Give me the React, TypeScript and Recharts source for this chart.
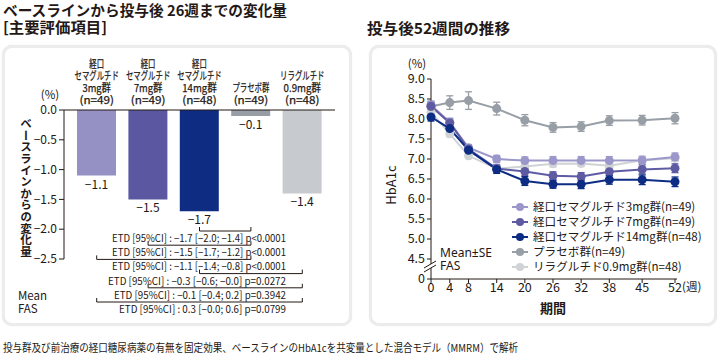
import React from 'react';
import {
  BarChart, Bar, XAxis, YAxis, Cell, LabelList, ReferenceLine,
  LineChart, Line, ErrorBar, Legend,
} from 'recharts';

const INK = '#231815';
const FONT = '"Noto Sans CJK JP", "Noto Sans", sans-serif';
const LATIN = '"Noto Sans", "Open Sans", sans-serif';

// ---------- left panel data ----------
const groupKeys = ['sema3', 'sema7', 'sema14', 'placebo', 'lira'];
const groupHeads = [
  ['経口', 'セマグルチド', '3mg群', '(n=49)'],
  ['経口', 'セマグルチド', '7mg群', '(n=49)'],
  ['経口', 'セマグルチド', '14mg群', '(n=48)'],
  ['プラセボ群', '(n=49)'],
  ['リラグルチド', '0.9mg群', '(n=48)'],
];
const changeFromBaseline = [-1.1, -1.5, -1.7, -0.1, -1.4];
const barColors = ['#9591c4', '#5b58a1', '#0e2c82', '#989ea6', '#c7cace'];
const changeTicks = [0, -0.5, -1, -1.5, -2, -2.5];

const compA = ['sema14', 'sema7', 'sema3', 'sema14', 'sema7', 'sema3'];
const compB = ['placebo', 'placebo', 'placebo', 'lira', 'lira', 'lira'];
const compText = [
  'ETD [95%CI] : −1.7 [−2.0; −1.4] p<0.0001',
  'ETD [95%CI] : −1.5 [−1.7; −1.2] p<0.0001',
  'ETD [95%CI] : −1.1 [−1.4; −0.8] p<0.0001',
  'ETD [95%CI] : −0.3 [−0.6; −0.0] p=0.0272',
  'ETD [95%CI] : −0.1 [−0.4; 0.2] p=0.3942',
  'ETD [95%CI] : 0.3 [−0.0; 0.6] p=0.0799',
];
const compTextW = [174, 174, 174, 178, 172, 167];

// ---------- right panel data ----------
const weeks = [0, 4, 8, 14, 20, 26, 32, 38, 45, 52];
const weekTicks = [0, 4, 8, 14, 20, 26, 32, 38, 45, 52];
const hba1cTicks = [4, 4.5, 5, 5.5, 6, 6.5, 7, 7.5, 8, 8.5, 9];
const sema3 = [8.35, 7.92, 7.28, 7.0, 6.96, 6.96, 6.96, 6.96, 6.97, 7.05];
const sema7 = [8.32, 7.9, 7.25, 6.76, 6.69, 6.58, 6.56, 6.68, 6.74, 6.77];
const sema14 = [8.05, 7.76, 7.22, 6.74, 6.45, 6.37, 6.37, 6.48, 6.48, 6.43];
const placebo = [8.31, 8.41, 8.46, 8.26, 7.97, 7.79, 7.81, 7.96, 7.97, 8.02];
const lira = [8.17, 7.63, 7.08, 6.76, 6.81, 6.88, 6.89, 6.83, 6.97, 7.02];
const sema3Se = [0.1, 0.1, 0.08, 0.09, 0.09, 0.1, 0.1, 0.1, 0.1, 0.1];
const sema7Se = [0.1, 0.1, 0.08, 0.09, 0.1, 0.1, 0.1, 0.1, 0.11, 0.11];
const sema14Se = [0.1, 0.1, 0.09, 0.1, 0.11, 0.1, 0.11, 0.11, 0.12, 0.12];
const placeboSe = [0.11, 0.17, 0.22, 0.16, 0.14, 0.12, 0.12, 0.12, 0.12, 0.14];
const liraSe = [0.1, 0.08, 0.07, 0.08, 0.08, 0.08, 0.08, 0.08, 0.08, 0.08];

const seriesDefs = [
  { key: 'lira', name: 'リラグルチド0.9mg群(n=48)', color: '#d0d3d6', mean: lira, se: liraSe },
  { key: 'placebo', name: 'プラセボ群(n=49)', color: '#989ea6', mean: placebo, se: placeboSe },
  { key: 'sema3', name: '経口セマグルチド3mg群(n=49)', color: '#9b97cb', mean: sema3, se: sema3Se },
  { key: 'sema7', name: '経口セマグルチド7mg群(n=49)', color: '#5e5ba3', mean: sema7, se: sema7Se },
  { key: 'sema14', name: '経口セマグルチド14mg群(n=48)', color: '#0d2c84', mean: sema14, se: sema14Se },
];
const legendOrder = ['sema3', 'sema7', 'sema14', 'placebo', 'lira'];

// ---------- derived tables ----------
const barData = groupKeys.map((k, i) => ({ k, v: changeFromBaseline[i] }));
const headMap: Record<string, string[]> = {};
groupKeys.forEach((k, i) => { headMap[k] = groupHeads[i]; });

const lineData = weeks.map((w, i) => {
  const row: any = { week: w };
  seriesDefs.forEach((s) => {
    row[s.key] = s.mean[i];
    row[s.key + '_se'] = s.se[i];
  });
  return row;
});

// left plot geometry (for bracket annotations)
const L_TOP = 110;
const L_H = 149;
const L_UNIT = L_H / 2.5;
const BR_Y0 = 231;
const BR_STEP = 14.2;
const pxToVal = (py: number) => -(py - L_TOP) / L_UNIT;

// width estimate for compressed header labels
const lw = (s: string) => {
  let w = 0;
  for (const ch of s) {
    const c = ch.charCodeAt(0);
    if (c >= 0x3000) w += 7.4;
    else if (ch === 'm') w += 9;
    else if (ch === '(' || ch === ')') w += 5;
    else if (ch === '.') w += 3;
    else if (ch === '=') w += 6.5;
    else w += 6;
  }
  return w;
};

const fmtChange = (v: number) => (v === 0 ? '0.0' : (v < 0 ? '−' : '') + Math.abs(v).toFixed(1));

const HeadTick = (props: any) => {
  const { x, y, payload } = props;
  const lines = headMap[payload.value] || [];
  const n = lines.length;
  return (
    <g>
      {lines.map((s, i) => (
        <text
          key={i}
          x={x}
          y={y - 2 - (n - 1 - i) * 11.9}
          textAnchor="middle"
          fontSize={10.8}
          fill={INK}
          stroke={INK}
          strokeWidth={0.25}
          textLength={lw(s)}
          lengthAdjust="spacingAndGlyphs"
        >
          {s}
        </text>
      ))}
    </g>
  );
};

const BarValueLabel = (props: any) => {
  const { x, y, width, height, value } = props;
  const bottom = Math.max(y, y + height);
  return (
    <text x={x + width / 2} y={bottom + 13} textAnchor="middle" fontSize={12} fill={INK}>
      {fmtChange(value)}
    </text>
  );
};

const WeekTick = (props: any) => {
  const { x, y, payload } = props;
  return (
    <g>
      <text x={x} y={y} dy="0.71em" textAnchor="middle" fontSize={12.5} fill={INK}>
        {payload.value}
      </text>
      {payload.value === 52 && (
        <text x={x + 7} y={y} dy="0.71em" textAnchor="start" fontSize={11.5} fill={INK}>
          (週)
        </text>
      )}
    </g>
  );
};

const LegendContent = (props: any) => {
  const items = [...(props.payload || [])].sort(
    (a: any, b: any) => legendOrder.indexOf(a.dataKey) - legendOrder.indexOf(b.dataKey)
  );
  return (
    <div>
      {items.map((it: any) => (
        <div key={it.dataKey} style={{ display: 'flex', alignItems: 'center', height: 15 }}>
          <svg width={16} height={10} style={{ display: 'block' }}>
            <line x1={0} y1={5} x2={16} y2={5} stroke={it.color} strokeWidth={2} />
            <circle cx={8} cy={5} r={4} fill={it.color} />
          </svg>
          <span style={{ marginLeft: 5, fontSize: 11.6, color: INK, whiteSpace: 'nowrap', lineHeight: '15px' }}>
            {it.value}
          </span>
        </div>
      ))}
    </div>
  );
};

const cardStyle = (left: number, width: number): React.CSSProperties => ({
  position: 'absolute', left, top: 45, width, height: 281,
  border: '3px solid #ececec', borderRadius: 10, boxSizing: 'border-box',
  background: '#fff', boxShadow: '0 0 1px #dcdcdc',
});

export default function App() {
  return (
    <div style={{ position: 'absolute', left: 0, top: 0, width: 720, height: 362, background: '#fff', fontFamily: FONT, color: INK, overflow: 'hidden' }}>
      <div style={cardStyle(2, 350)} />
      <div style={cardStyle(369, 348)} />

      {/* left bar chart */}
      <div style={{ position: 'absolute', left: 0, top: 0 }}>
        <BarChart width={360} height={330} data={barData} margin={{ top: 60, right: 25, bottom: 71, left: 0 }}>
          <XAxis
            dataKey="k"
            orientation="top"
            height={50}
            tickLine={false}
            tickSize={0}
            tickMargin={4}
            padding={{ left: 7, right: 7 }}
            axisLine={{ stroke: INK, strokeWidth: 1.2 }}
            tick={<HeadTick />}
            interval={0}
          />
          <YAxis
            type="number"
            domain={[-2.5, 0]}
            ticks={changeTicks}
            width={64}
            tickSize={5}
            tickMargin={2}
            stroke={INK}
            tick={{ fontSize: 12, fill: INK }}
            tickFormatter={fmtChange}
            allowDataOverflow
          />
          <Bar dataKey="v" barSize={39} isAnimationActive={false}>
            {barData.map((d, i) => <Cell key={d.k} fill={barColors[i]} />)}
            <LabelList dataKey="v" content={<BarValueLabel />} />
          </Bar>
          {compA.map((a, i) => {
            const b = compB[i];
            const yv = pxToVal(BR_Y0 + i * BR_STEP);
            const tick = 4 / L_UNIT;
            return (
              <React.Fragment key={'br' + i}>
                <ReferenceLine segment={[{ x: a, y: yv }, { x: b, y: yv }]} stroke={INK} strokeWidth={1} ifOverflow="visible" />
                <ReferenceLine segment={[{ x: a, y: yv }, { x: a, y: yv + tick }]} stroke={INK} strokeWidth={1} ifOverflow="visible" />
                <ReferenceLine segment={[{ x: b, y: yv }, { x: b, y: yv + tick }]} stroke={INK} strokeWidth={1} ifOverflow="visible" />
              </React.Fragment>
            );
          })}
        </BarChart>
      </div>

      {/* right line chart */}
      <div style={{ position: 'absolute', left: 360, top: 0 }}>
        <LineChart width={360} height={330} data={lineData} margin={{ top: 79, right: 43, bottom: 21, left: 0 }}>
          <XAxis
            dataKey="week"
            type="number"
            domain={[0, 52]}
            ticks={weekTicks}
            height={30}
            tickSize={4}
            tickMargin={0}
            padding={{ left: 0, right: 2 }}
            stroke={INK}
            tick={<WeekTick />}
            interval={0}
          />
          <YAxis
            type="number"
            domain={[4, 9]}
            ticks={hba1cTicks}
            width={71}
            tickSize={4}
            tickMargin={2}
            stroke={INK}
            tick={{ fontSize: 12.5, fill: INK }}
            tickFormatter={(v: number) => (v === 4 ? '0' : v.toFixed(1))}
            interval={0}
          />
          <Legend
            layout="vertical"
            align="center"
            verticalAlign="middle"
            wrapperStyle={{ left: 152, top: 199, width: 200 }}
            content={<LegendContent />}
          />
          {seriesDefs.map((s) => (
            <Line
              key={s.key}
              dataKey={s.key}
              name={s.name}
              stroke={s.color}
              strokeWidth={2}
              dot={{ r: 4.5, fill: s.color, stroke: s.color, strokeWidth: 0 }}
              activeDot={false}
              isAnimationActive={false}
            >
              <ErrorBar dataKey={s.key + '_se'} direction="y" width={3.5} stroke={s.color} strokeWidth={1.3} />
            </Line>
          ))}
        </LineChart>
      </div>

      {/* text overlay */}
      <svg width={720} height={362} style={{ position: 'absolute', left: 0, top: 0, pointerEvents: 'none' }}>
        <g fill={INK}>
          <text x={3} y={16} fontSize={14.5} fontWeight={700} textLength={284} lengthAdjust="spacingAndGlyphs">ベースラインから投与後 26週までの変化量</text>
          <text x={3} y={33} fontSize={14.5} fontWeight={700} textLength={104} lengthAdjust="spacingAndGlyphs">[主要評価項目]</text>
          <text x={367} y={34} fontSize={15} fontWeight={700} textLength={143} lengthAdjust="spacingAndGlyphs">投与後52週間の推移</text>

          <text x={26} y={118} fontSize={11.6} fontWeight={700} style={{ writingMode: 'vertical-rl' as any }}>ベースラインからの変化量</text>
          <text x={50} y={99} fontSize={11.5} textAnchor="middle">(%)</text>

          {compText.map((t, i) => (
            <text key={i} x={286} y={BR_Y0 + i * BR_STEP + 11} fontSize={10.5} textAnchor="end" textLength={compTextW[i]} lengthAdjust="spacingAndGlyphs">{t}</text>
          ))}
          <text x={18} y={300} fontSize={11.5}>Mean</text>
          <text x={18} y={313} fontSize={11.5}>FAS</text>

          <text x={417} y={68} fontSize={11.5} textAnchor="middle">(%)</text>
          <text x={396} y={185} fontSize={13} textAnchor="middle" transform="rotate(-90 396 185)">HbA1c</text>
          <text x={440} y={257} fontSize={12} fontFamily={LATIN}>Mean±SE</text>
          <text x={440} y={270} fontSize={12} fontFamily={LATIN}>FAS</text>
          <text x={553} y={313} fontSize={13} fontWeight={700} textAnchor="middle">期間</text>

          <text x={3} y={352} fontSize={11} textLength={515} lengthAdjust="spacingAndGlyphs">投与群及び前治療の経口糖尿病薬の有無を固定効果、ベースラインのHbA1cを共変量とした混合モデル（MMRM）で解析</text>
        </g>
        {/* axis break marks */}
        <polygon points="424,268 436,261 436,265 424,272" fill="#fff" />
        <line x1={424} y1={268} x2={436} y2={261} stroke={INK} strokeWidth={1} />
        <line x1={424} y1={272} x2={436} y2={265} stroke={INK} strokeWidth={1} />
      </svg>
    </div>
  );
}
